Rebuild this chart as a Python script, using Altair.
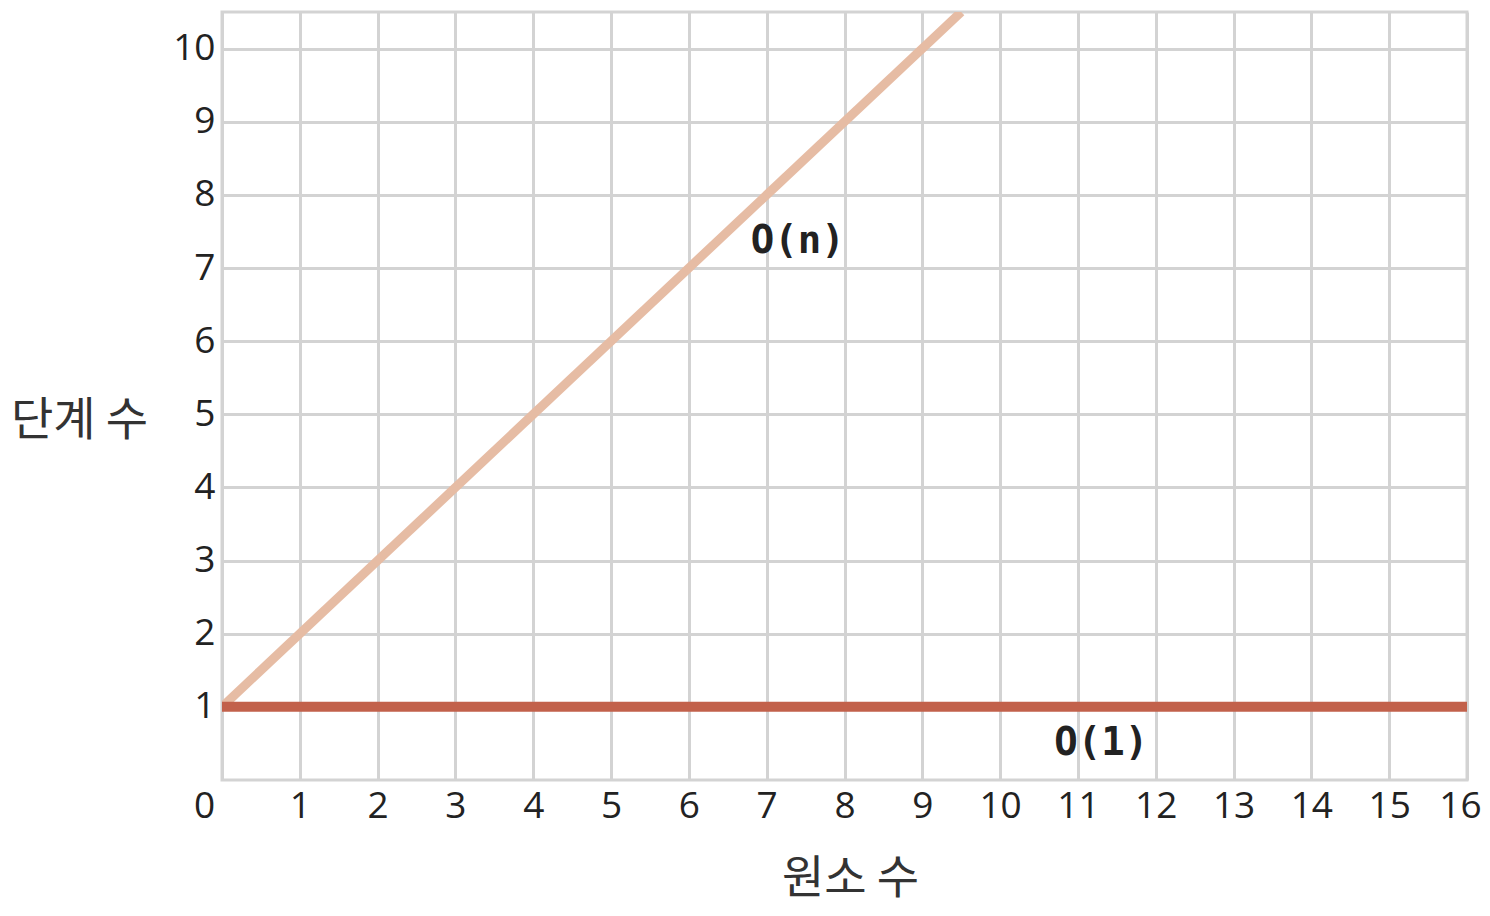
import altair as alt
import pandas as pd

# O(n) series (clipped at top of plot)
on_x = [0, 9.5]
on_y = [1, 10.5]
# O(1) series
o1_x = [0, 16]
o1_y = [1, 1]

label_text = ["O(n)", "O(1)"]
label_x = [7.4, 11.3]
label_y = [7.37, 0.5]

x_ticks = list(range(0, 17))
y_ticks = list(range(1, 11))

df_n = pd.DataFrame({"x": on_x, "y": on_y})
df_1 = pd.DataFrame({"x": o1_x, "y": o1_y})
df_lab = pd.DataFrame({"x": label_x, "y": label_y, "t": label_text})

xscale = alt.Scale(domain=[0, 16], nice=False, zero=False)
yscale = alt.Scale(domain=[0, 10.5], nice=False, zero=False)

grid_col = "#d3d3d3"

xaxis = alt.Axis(
    values=x_ticks, format="d", grid=True, gridColor=grid_col, gridWidth=3,
    domain=False, ticks=False, labelFlush=False,
    labelFont="Open Sans", labelFontSize=37, labelColor="#222",
    labelPadding=8, labelAlign="center",
    labelOffset={"expr": "datum.value == 0 ? -18 : (datum.value == 16 ? -7 : 0)"},
    title="원소 수", titleFont="Noto Sans CJK KR", titleFontSize=46,
    titleFontWeight="normal", titleColor="#333",
    titleX=628, titleY=98, titleAlign="center", titleBaseline="middle",
)
yaxis = alt.Axis(
    values=y_ticks, format="d", grid=True, gridColor=grid_col, gridWidth=3,
    domain=False, ticks=False, labelFlush=False,
    labelFont="Open Sans", labelFontSize=37, labelColor="#222",
    labelPadding=7,
    title="단계 수", titleFont="Noto Sans CJK KR", titleFontSize=46,
    titleFontWeight="normal", titleColor="#333", titleAngle=0,
    titleX=-143, titleY=408, titleAlign="center", titleBaseline="middle",
)

line_n = alt.Chart(df_n).mark_line(color="#e6bca4", strokeWidth=9, clip=True).encode(
    x=alt.X("x:Q", scale=xscale, axis=xaxis),
    y=alt.Y("y:Q", scale=yscale, axis=yaxis),
)
line_1 = alt.Chart(df_1).mark_line(color="#c2614b", strokeWidth=10, clip=True).encode(
    x=alt.X("x:Q", scale=xscale),
    y=alt.Y("y:Q", scale=yscale),
)
labels = alt.Chart(df_lab).mark_text(
    font="DejaVu Sans Mono", fontWeight="bold", fontSize=39, color="#222",
    align="center", baseline="middle",
).encode(
    x=alt.X("x:Q", scale=xscale),
    y=alt.Y("y:Q", scale=yscale),
    text="t:N",
)

chart = (
    alt.layer(line_n, line_1, labels)
    .properties(
        width=1245, height=768,
        autosize=alt.AutoSizeParams(type="none"),
        padding={"left": 214, "top": 4, "right": 15, "bottom": 124},
    )
    .configure_view(stroke=grid_col, strokeWidth=3)
)

chart.save("out.html", embed_options={"renderer": "svg", "actions": False})
